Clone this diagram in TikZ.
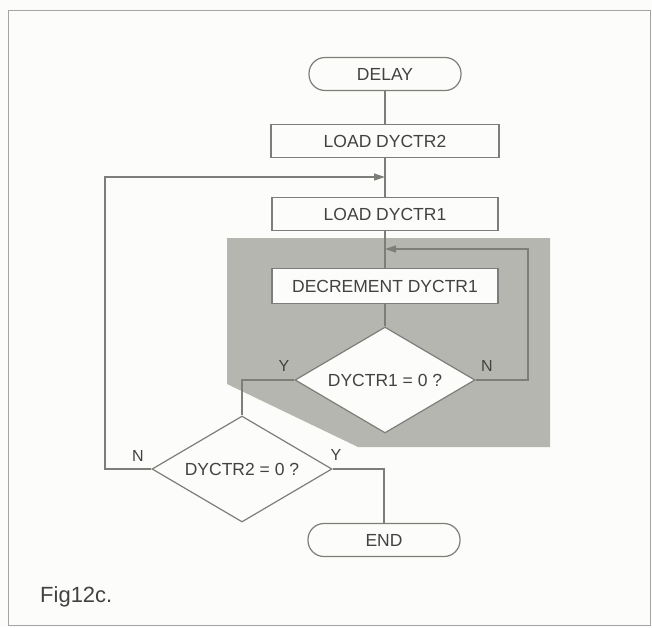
\documentclass[tikz,border=0pt]{standalone}
\usepackage{fontspec}
\setmainfont{Liberation Sans}
\usetikzlibrary{arrows.meta, positioning, shapes.geometric, calc}

\definecolor{inkgray}{RGB}{125,125,122}
\definecolor{textgray}{RGB}{66,66,64}
\definecolor{loopgray}{RGB}{182,182,176}
\definecolor{paper}{RGB}{252,252,250}

\tikzset{
  flowline/.style={draw=inkgray, line width=1.2pt},
  boxtext/.style={font=\fontsize{17.5}{19}\selectfont, text=textgray, inner sep=0pt},
  terminal/.style={flowline, boxtext, rectangle, rounded corners=16pt, fill=paper,
    minimum width=152pt, minimum height=33pt},
  procbox/.style={flowline, boxtext, rectangle, fill=paper,
    minimum width=226pt, minimum height=33pt},
  decision/.style={flowline, boxtext, diamond, aspect=1.7, fill=paper,
    minimum width=180pt, minimum height=106pt},
  branch/.style={font=\fontsize{16}{18}\selectfont, text=textgray, inner sep=0pt},
  loopin/.style={-{Triangle[length=11pt,width=7pt]}}
}

\begin{document}
\begin{tikzpicture}[x=1pt, y=-1pt]
  \useasboundingbox (0,0) rectangle (652,627);
  \fill[paper] (0,0) rectangle (652,627);
  % page frame
  \draw[inkgray!70, line width=1pt] (8,10) rectangle (650,625);

  % shaded inner loop
  \fill[loopgray] (227,238) -- (550,238) -- (550,447) -- (358,447) -- (227,384) -- cycle;

  % boxes
  \node[terminal] (delay) at (385,74) {DELAY};
  \node[procbox, minimum width=228pt] (load2) at (385,141) {LOAD DYCTR2};
  \node[procbox] (load1) at (385,214) {LOAD DYCTR1};
  \node[procbox, minimum height=35pt] (decr) at (385,286) {DECREMENT DYCTR1};
  \node[decision] (test1) at (385,380) {DYCTR1 = 0 ?};
  \node[decision] (test2) at (242,469) {DYCTR2 = 0 ?};
  \node[terminal] (end) at (384,540) {END};

  % join points on the main line
  \coordinate (outer) at (385,177);
  \coordinate (inner) at (385,249);

  % connectors
  \draw[flowline] (delay) -- (load2);
  \draw[flowline] (load2) -- (load1);
  \draw[flowline] (load1) -- (decr);
  \draw[flowline] (decr) -- (test1);
  \draw[flowline, loopin] (test1.east) -- (528,380) |- (inner);
  \draw[flowline] (test1.west) -| (test2.north);
  \draw[flowline, loopin] (test2.west) -- (105,469) |- (outer);
  \draw[flowline] (test2.east) -| (end.north);

  % branch labels
  \node[branch] (y1) at (284,366) {Y};
  \node[branch] (n1) at (487,366) {N};
  \node[branch] (n2) at (138,456) {N};
  \node[branch] (y2) at (336,455) {Y};

  % caption
  \node[font=\fontsize{22}{24}\selectfont, text=textgray, anchor=west, inner sep=0pt]
    (caption) at (40,597) {Fig12c.};
\end{tikzpicture}
\end{document}
